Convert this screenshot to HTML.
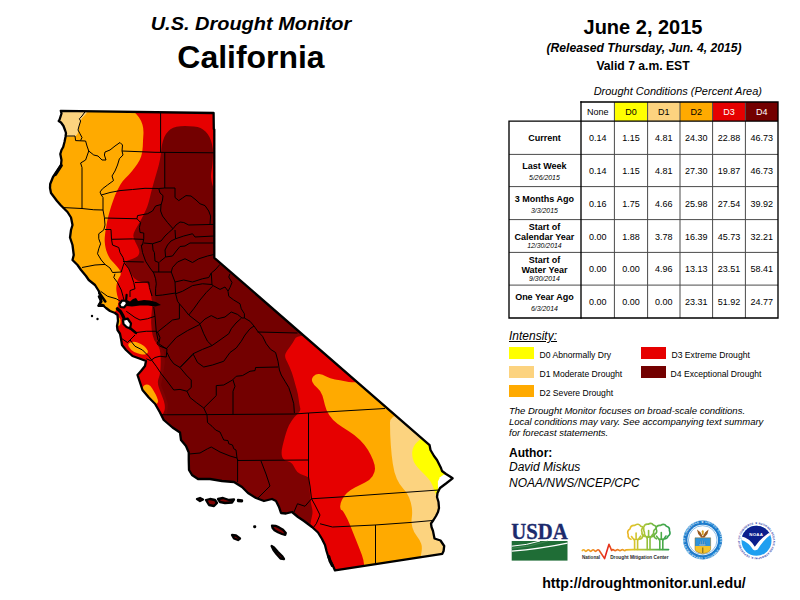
<!DOCTYPE html>
<html><head><meta charset="utf-8"><title>U.S. Drought Monitor - California</title>
<style>
html,body{margin:0;padding:0;background:#fff}
body{width:800px;height:600px;position:relative;overflow:hidden;font-family:"Liberation Sans",Arial,sans-serif;color:#000}
.t{position:absolute;white-space:nowrap;line-height:1;text-align:center;transform-origin:50% 50%}
.l{position:absolute;white-space:nowrap;line-height:1;text-align:left;transform-origin:0 50%}
#map{position:absolute;left:0;top:0}
table#dt{position:absolute;left:507px;top:100px;border-collapse:collapse;font-size:9px}
#dt td{border:1px solid #555;text-align:center;padding:0;width:32px;height:32px}
#dt tr.h td{height:18px;border-top:2px solid #000}
#dt td.lab{width:71px;font-weight:bold;font-size:9px;line-height:10px;border-left:2px solid #000;border-right:2px solid #000}
#dt td.lab i{font-weight:normal;font-size:6.5px;display:block;line-height:8px}
#dt td.e{border:none;border-bottom:2px solid #000}
#dt tr td:last-child{border-right:2px solid #000}
#dt tr:last-child td{border-bottom:2px solid #000}
#dt tr.h td.n{border-left:2px solid #000}
#dt tr.h td{border-bottom:2px solid #000}
.sw{position:absolute;width:25px;height:12.5px}
</style></head><body>
<svg id="map" width="800" height="600" viewBox="0 0 800 600">
<defs><clipPath id="st"><polygon points="60.8,110.8 213.6,113 213.8,129 214.3,129.5 214.3,257.8 429.6,445.2 430.5,450 434,456 437,460 439,464 441,468 442,471 446,474 450,476.5 452.6,478.3 446,483.5 440,488 437.5,493 437,497 438.5,502 439,508 438,512 436,516 433.5,520 431,523.5 431.5,527 433,531 434.5,538.5 440.5,540.5 444.2,546 443.6,551 442.3,553.8 335,570.4 333,566 330.5,561 328.5,557.5 326.5,551 325,545 322,539 318,532.5 312,527 304,521 298,517 292,512 286,513.5 281,513 279,507 276,501 272,499 264,501 256,498 248,493 242,487 234,482 222,481 210,479 198,479 192,475 189,470 188.75,460 188.75,452.5 186,446 181,440 180,432.5 172.5,427.5 163.75,420 160,412.5 155,403.75 148.75,397.5 142.5,390 140,382.5 137.5,375 141,371 145,366 146,361 140,358.75 132.5,356 126,350 122,345 121,338.75 120,333.75 117.5,330 117,326 118,321 117.5,315 115,313 110,311 106,308 102.5,305 98.75,305.6 101,301 100.6,296 98.75,291 95,285 88.75,280 86,276 81,270 77.5,265 72.5,260 73.75,255 72.5,245 70,237.5 71,230 72.5,225 71,217.5 67.5,212 64,208.5 60.5,205 57,201 54,197 51,193 50,188 50.2,184 53,177 57,171 61,165 61.5,160 60.3,154 61.5,150 63.2,147 64.5,142 65.5,137 66,133 65,130 63.5,126 61,122.5 58.7,121 59.6,119.5 61.5,113.5"/></clipPath></defs>
<g clip-path="url(#st)">
<rect x="40" y="100" width="420" height="480" fill="#730000"/>
<polygon points="164.75,152 164.75,188 158.75,188.5 160,193 163,195.6 162.5,200 161,204.5 155.6,206 152.5,211 147.5,213.75 137.5,215.6 137,218.75 140.6,222.5 139.4,227.5 140,232.5 143.75,233 143.75,238.75 142.5,245 141.25,245 142.5,252.5 145.6,261.25 150,268 153.75,273 155.6,278.75 156.25,283.75 155.6,288.75 155.6,295.6 155.6,300 155,310 155,325 156,335 160,345 164,352 165,362 163,375 161,385 165,395 168,404 167,416 120,416 120,152" fill="#7e0202" />
<polygon points="257.5,332.5 262.5,336.25 266.25,343.75 270.6,349.4 275.6,352.5 278,361.25 279.4,370 281.25,375 285,381.25 288.75,387.5 291.25,395 293.75,403.75 294.4,413.5 330,413 330,332.5" fill="#7e0202" />
<polygon points="237.6,460.3 308.5,460 330,460 330,600 237.6,600" fill="#7e0202" />
<path d="M214.0,189.0Q213,187 212.2,184.0Q211.3,181 211.1,178.0Q210.8,175 211.4,171.5Q212,168 212.4,164.0Q212.8,160 212.9,156.0Q213,152 212.8,149.5Q212.5,147 211.8,143.5Q211,140 209.5,137.0Q208,134 205.5,131.5Q203,129 200.5,127.9Q198,126.8 194.0,126.4Q190,126.1 185.0,126.1Q180,126.1 176.5,126.8Q173,127.5 170.5,129.2Q168,131 166.0,134.0Q164,137 162.9,141.0Q161.8,145 161.5,148.5Q161.2,152 160.6,156.0Q160,160 158.8,165.0Q157.5,170 155.6,176.2Q153.75,182.5 152.4,187.5Q151,192.5 149.9,197.5Q148.75,202.5 147.4,206.2Q146,210 143.5,215.0Q141,220 139.5,222.5Q138,225 135.5,229.4Q133,233.75 133.4,236.2Q133.75,238.75 135.6,242.4Q137.5,246 138.8,249.2Q140,252.5 138.5,255.0Q137,257.5 131.5,259.2Q126,261 125.5,261.8Q125,262.5 127.5,266.8Q130,271 131.9,274.9Q133.75,278.75 137.4,280.4Q141,282 144.2,282.2Q147.5,282.5 148.8,285.0Q150,287.5 150.3,290.0Q150.6,292.5 151.6,298.8Q152.5,305 151.8,311.2Q151,317.5 151.2,323.8Q151.5,330 152.6,335.0Q153.75,340 156.2,343.1Q158.75,346.25 159.7,349.4Q160.6,352.5 160.7,358.8Q160.8,365 160.4,370.0Q160,375 158.5,378.8Q157,382.5 159.0,388.1Q161,393.75 162.6,397.4Q164.2,401 164.7,404.5Q165.2,408 164.5,410.5Q163.8,413 162.4,414.5Q161,416 150.5,423.0Q140,430 85.0,430.0Q30,430 30.0,260.0Q30,90 135.0,90.0Q240,90 240.0,139.5Q240,189 227.5,190.0Q215,191 214.0,189.0Z" fill="#e60000" />
<path d="M295.5,338.1Q292.5,343.75 289.1,348.1Q285.6,352.5 285.2,354.8Q284.75,357 286.1,359.8Q287.5,362.5 289.8,367.5Q292,372.5 293.5,378.1Q295,383.75 296.5,388.8Q298,393.75 298.7,399.4Q299.4,405 300.2,408.0Q301,411 298.0,413.5Q295,416 291.9,420.5Q288.75,425 287.4,429.0Q286,433 285.0,436.5Q284,440 282.5,446.2Q281,452.5 282.0,456.2Q283,460 287.0,461.0Q291,462 292.4,464.0Q293.75,466 295.4,469.2Q297,472.5 300.4,474.1Q303.75,475.6 306.2,476.3Q308.75,477 308.9,478.5Q309,480 309.5,487.5Q310,495 310.5,499.5Q311,504 312.0,508.0Q313,512 312.0,516.0Q311,520 310.5,524.0Q310,528 315.0,564.0Q320,600 400.0,600.0Q480,600 480.0,465.0Q480,330 389.2,331.2Q298.5,332.5 295.5,338.1Z" fill="#e60000" />
<path d="M134.2,112.0Q136.5,114 138.9,117.2Q141.3,120.5 142.5,124.8Q143.75,129 143.4,134.5Q143,140 142.8,146.2Q142.5,152.5 141.2,156.2Q140,160 137.5,163.8Q135,167.5 131.9,171.2Q128.75,175 125.6,178.0Q122.5,181 120.6,184.2Q118.75,187.5 116.9,191.2Q115,195 113.8,198.8Q112.5,202.5 111.2,206.2Q110,210 109.0,213.8Q108,217.5 107.2,221.2Q106.5,225 105.9,228.5Q105.3,232 104.9,236.0Q104.5,240 104.8,242.5Q105,245 105.5,247.5Q106,250 106.8,252.0Q107.5,254 108.8,256.5Q110,259 111.5,260.5Q113,262 115.2,264.5Q117.5,267 119.0,269.0Q120.5,271 120.8,273.0Q121,275 119.2,277.5Q117.5,280 116.8,283.8Q116,287.5 116.5,291.2Q117,295 117.9,297.5Q118.75,300 118.4,302.5Q118,305 117.0,308.5Q116,312 108.0,316.0Q100,320 65.0,320.0Q30,320 30.0,205.0Q30,90 81.5,90.0Q133,90 132.5,100.0Q132,110 134.2,112.0Z" fill="#ffaa00" />
<path d="M130.4,342.4Q133.75,341.3 137.4,342.4Q141,343.5 144.0,346.0Q147,348.5 147.8,350.8Q148.5,353 146.2,354.0Q144,355 140.8,354.2Q137.5,353.5 134.2,352.0Q131,350.5 129.0,347.0Q127,343.5 130.4,342.4Z" fill="#ffaa00" />
<path d="M144.4,385.2Q146.25,384 148.4,384.8Q150.5,385.6 152.2,388.4Q154,391.25 155.7,394.4Q157.3,397.5 157.9,400.0Q158.5,402.5 157.1,403.4Q155.6,404.3 153.4,401.6Q151.25,399 148.8,396.0Q146.25,393 144.3,391.3Q142.3,389.6 142.4,388.1Q142.5,386.5 144.4,385.2Z" fill="#ffaa00" />
<path d="M117.8,317.2Q120.6,317.5 120.6,321.2Q120.6,325 119.3,325.5Q118,326 116.5,326.0Q115,326 115.0,321.5Q115,317 117.8,317.2Z" fill="#ffaa00" />
<path d="M353.0,382.2Q350,382.5 345.0,381.2Q340,380 335.0,379.4Q330,378.75 326.2,376.6Q322.5,374.5 319.2,374.1Q316,373.75 313.5,376.2Q311,378.75 312.4,381.9Q313.75,385 317.4,388.0Q321,391 322.4,395.5Q323.75,400 324.9,405.0Q326,410 329.2,415.0Q332.5,420 337.5,423.8Q342.5,427.5 348.8,431.2Q355,435 360.0,440.0Q365,445 368.0,450.0Q371,455 373.0,460.0Q375,465 375.0,468.8Q375,472.5 372.5,476.2Q370,480 365.0,482.5Q360,485 355.0,487.5Q350,490 346.9,493.0Q343.75,496 341.9,499.9Q340,503.75 340.2,506.9Q340.5,510 341.5,510.0Q342.5,510 345.0,514.4Q347.5,518.75 349.2,523.1Q351,527.5 353.5,533.8Q356,540 358.0,545.0Q360,550 361.9,555.0Q363.75,560 364.1,565.0Q364.5,570 364.2,585.0Q364,600 422.0,600.0Q480,600 480.0,491.0Q480,382 418.0,382.0Q356,382 353.0,382.2Z" fill="#ffaa00" />
<polygon points="50,100 88,100 87.5,112 85,115 82,118 80.3,121 79.5,125 78.6,130 77.5,134 75,136.6 50,136.6" fill="#fcd37f" />
<path d="M390.0,422.5Q390,435 390.8,445.0Q391.5,455 392.8,463.8Q394,472.5 396.8,478.8Q399.5,485 403.5,489.0Q407.5,493 409.2,497.8Q411,502.5 411.8,507.5Q412.5,512.5 411.8,517.5Q411,522.5 412.4,527.5Q413.75,532.5 416.9,536.2Q420,540 421.2,543.8Q422.5,547.5 421.2,553.8Q420,560 420.0,580.0Q420,600 450.0,600.0Q480,600 480.0,505.0Q480,410 435.0,410.0Q390,410 390.0,422.5Z" fill="#fcd37f" />
<path d="M422.0,437.2Q420,439.5 417.5,441.8Q415,444 413.8,446.5Q412.5,449 412.2,452.0Q412,455 412.8,458.5Q413.5,462 415.8,465.0Q418,468 420.5,470.5Q423,473 425.5,475.5Q428,478 429.8,480.5Q431.5,483 432.8,486.2Q434,489.5 435.1,492.8Q436.3,496 438.1,495.0Q440,494 442.5,493.0Q445,492 457.5,486.0Q470,480 470.0,457.5Q470,435 447.0,435.0Q424,435 422.0,437.2Z" fill="#ffff00" />
<polygon points="438,488.8 437.9,481.5 440,477.3 444,474.6 458,477 448,486" fill="#fff" />
<g fill="none" stroke="#000" stroke-width="1" stroke-linejoin="round">
<polyline points="85.6,111 82,116 79.4,118.75 80.6,121 78.75,127 78,130 80,133.75 82,137.5 80.6,140.5" />
<polyline points="62,136 75,136 75.6,140.6 85.6,141" />
<polyline points="85.6,141 87,146 88.75,151 87,156 85.6,160 80.6,163 82,167.5 82,209" />
<polyline points="88.75,151 93.75,155 98,156 102,160 106,160 104.4,155 105,152 110,150 115,146 120,142.5 122.5,145 122,151" />
<polyline points="122,151 155,152.3 214,152.8" />
<polyline points="160.6,112 160.6,152.4" />
<polyline points="122,151 123,155 119.4,158.75 117.5,165 115,171 112,176 113.5,180.6 107.5,185 102.5,188.75 100,192 101.25,195 103,197.5 103,210" />
<polyline points="62,207.5 82,208.5 93.75,209.75 103,210" />
<polyline points="101.25,195 110,192.5 120,190.6 132.5,189.5 145,188.3 158.75,188.5 164.75,188 175,188" />
<polyline points="164.75,152.4 164.75,188" />
<polyline points="175,188 175,197.5 178.75,200.6 182.5,198 186,195.6 191,196 196,200 200,203.75 205,205.6 208.75,211 210.6,216 210,224.4" />
<polyline points="158.75,188.5 160,193 163,195.6 162.5,200 161,205 160.6,211 162.5,216 167.5,222.5 173,228.75" />
<polyline points="161,204.5 155.6,206 152.5,211 147.5,213.75 137.5,215.6 137,218.75 140.6,222.5 139.4,227.5 140,232.5 143.75,233 143.75,238.75 142.5,245 141.25,245" />
<polyline points="103,210 104.4,217.5 105,225 103.75,230 98.75,233.75 98.75,238.75 100.6,243.75 98.75,248.75 97.5,253.75 101.25,260 105,264.4" />
<polyline points="104.4,218 137,218.75" />
<polyline points="105,229.5 111,229.5 111.5,239.3 132.5,238.9 143.75,239.4" />
<polyline points="173,228.75 176,225 180,222 183.75,222.5 188.75,225 214,224.4" />
<polyline points="173,228.75 168.75,232.5 165,236 161,241 152.5,243.75 143.75,243" />
<polyline points="175,230 175.6,238.75 183.75,236 192.5,233.75 195,237 214,236" />
<polyline points="175.6,238.75 171,241 167.5,245 165,250 165.6,257 159.4,262" />
<polyline points="165.6,257 172.5,256 176.25,251 180,246.5 185,246 190,243 214,243" />
<polyline points="152.5,243.75 153,250 154.4,252.5 155,261 158.75,262.5 158.75,272" />
<polyline points="141.25,245 142.5,252.5 145.6,261.25 150,268 153.75,273 155.6,278.75 156.25,283.75 155.6,288.75 155.6,295.6" />
<polyline points="123,261.5 143.75,262" />
<polyline points="153,272 171.25,272" />
<polyline points="171.25,272 172.5,267.5 177.5,262 185,258.75 192.5,262.5 198.75,258.75 207.5,256 214,254.5" />
<polyline points="171.25,272 175,282 175.6,293.75" />
<polyline points="175,282 183.75,280 192.5,282 202.5,278.75 208.75,277.5 211.25,273 215,270 220,264.4" />
<polyline points="211.25,273 212,285 220,289.4 225,287 228,291" />
<polyline points="230,273.75 228.75,277 232,282.5 230,287.5 228,291.25 228.75,296.25 233.75,300 240,303.75 241.25,308.75 244.4,313.75 244.4,318 250,321.25 254,326 257.5,331" />
<polyline points="175.6,293.75 182.5,291.25 192.5,285.6 202.5,283.75 212,284.5" />
<polyline points="155.6,295.6 162.5,295 175.6,293" />
<polyline points="175.6,293.75 177.5,301.25 179.4,303.75 179.4,318.75 172.5,320 166.25,325 157.5,332" />
<polyline points="179.4,303.75 183.75,308.75 188.75,315 200,323.75" />
<polyline points="188.75,315 193.75,308.75 200,300 206.25,292.5 212.5,286.25" />
<polyline points="200,323.75 205,319 211.25,315.6 217.5,318.75 225,317 231.25,312 237.5,314.4 242,318 244.4,318" />
<polyline points="157.5,332 160,337.5 158.75,343.75 166.25,348.75" />
<polyline points="166.25,348.75 176.25,337.5 187.5,330.6 200,324.4" />
<polyline points="200,324.4 203.75,333.75 207.5,341.25 212,345.6" />
<polyline points="212,345.6 220,340 228.75,333.75 231.25,328.75 236,323 241.5,318" />
<polyline points="212,345.6 202.5,349.4 193,353.75 180,367.5" />
<polyline points="193,353.75 197.5,362.5 203.75,367 212.5,365 223.75,361.25 230,352.5 236.25,348 241.25,341.25 245,335 250,328.75 254,326" />
<polyline points="257.5,332 297.5,333" />
<polyline points="257.5,331 262.5,336.25 266.25,343.75 270.6,349.4 275.6,352.5 278,361.25 279.4,370 281.25,375 285,381.25 288.75,387.5 291.25,395 293.75,403.75 294.4,413" />
<polyline points="242.5,375.6 250,371.25 255,370.6 255.6,367.5 278,367" />
<polyline points="203.75,408 216.25,395.6 216.25,385.6 223.75,385 232.5,380 236.25,376.25 242.5,375.6" />
<polyline points="233,380 235,386.25 233,391.25 233,414.4" />
<polyline points="161,414.8 207,414.6 294,414 308.5,413" />
<polyline points="308.5,413 385,408.5" />
<polyline points="308.5,413 308.5,477 310,486 311.5,498.75" />
<polyline points="237,460.5 308.5,460" />
<polyline points="207,415 207.5,422.5 212,426.25 215.6,430 220,432 222,436.25 223.75,440 228,440.6 228.75,443.75 232.5,445 233.75,448.75 236,450 237,458 237.6,460" />
<polyline points="189,454 200,453 207.5,448.75 211.25,447 220,452 230,456 237,458" />
<polyline points="237.6,459 237.6,482" />
<polyline points="261,461 266,474 270,486 262,494 258,498" />
<polyline points="294,512 297.5,503.75 305,506.25 311.5,498.75" />
<polyline points="311.5,498.75 315,505 320,515 316.25,523.75 313,528" />
<polyline points="311.5,498.75 340,497 385,493.75 438.75,490" />
<polyline points="320,523.75 332.5,527 375,525 410,522.5 432.5,520.5" />
<polyline points="375.5,525 375.5,564" />
<polyline points="146.25,358.75 150.6,360.6 155,357.5 160,356.25 166.25,357 167,348.75 160,346.25 157,343.75 158.75,340" />
<polyline points="148.75,356.25 156.25,366.25 161.25,373.75 166.25,380 173.75,390 180,389.4 187,391.25" />
<polyline points="167,352.5 170,358.75 173.75,363.75 180,367.5 186.25,375 191.25,380 191.25,387.5 187,391.25 190,397.5 196.25,402.5 203.75,408 207,415" />
<polyline points="180,367.5 192.5,355" />
<polyline points="122,338.75 127.5,342.5 130,340 135,335" />
<polyline points="130,340 135,346.25 142.5,350 148.75,356.25" />
<polyline points="130,328.75 136.25,332.5 146.25,331.25 156.25,331.25 157.5,332" />
<polyline points="126.25,311.25 135,317.5 140,320 147.5,318.75 155,316.25" />
<polyline points="153.75,307 155,316.25 156.25,331.25 158,340" />
<polyline points="82,267.5 95,265 105,264.4 110,268 112.5,272.5 121.25,272" />
<polyline points="111.5,239.3 112.5,245 118.75,247.5 120,252.5 123,257.5 124.4,262.5 123,266.25 121.25,272" />
<polyline points="115,273.75 113.75,277.5 117.5,282.5 121.25,290 123,296.25 124,300" />
<polyline points="124.4,263 128.75,268.75 131.25,275 133.75,282.5 135,288.75 130,290.6 130,297" />
<polyline points="135,282.5 148.75,282 149.4,287.5 152,296" />
<polyline points="100.6,291.25 107.5,296.25 116.25,298.75 120,301" />
</g>
</g>
<path d="M328.8,556.5 L330,561 L332.3,565.5" fill="none" stroke="#000" stroke-width="3" stroke-linecap="round" stroke-linejoin="round"/>
<path d="M124,303 L127,300 L130,301.5 L133,299 L136,298 L138,301 L144,300 L150,300.5 L156,302 L161,305 L155,306.5 L148,305.5 L140,305.5 L132,306.5 L127,306 Z" fill="#000"/>
<path d="M119.5,304 L122,300.5 L126,301 L127,304 L124,307.5 L120.5,307 Z" fill="#fff" stroke="#000" stroke-width="2.2" stroke-linejoin="round"/>
<path d="M117.3,308.8 L120.5,311.5 L122.5,315 L124.3,319" fill="none" stroke="#000" stroke-width="3.2" stroke-linecap="round" stroke-linejoin="round"/>
<path d="M126.2,299.5 L126.6,294.8" fill="none" stroke="#000" stroke-width="2.2" stroke-linecap="round"/>
<path d="M99,296.5 L101.3,301.5 L98.6,305.6 L103.5,305.6" fill="none" stroke="#000" stroke-width="2.6" stroke-linecap="round" stroke-linejoin="round"/>
<path d="M123,320 L127.5,318.5 L131,323.5 L130,328.5 L126.5,327 L123.5,324 Z" fill="#fff" stroke="#000" stroke-width="2.2" stroke-linejoin="round"/>
<path d="M130,328 L136,333" fill="none" stroke="#000" stroke-width="2.5" stroke-linecap="round"/>
<path d="M55.5,174.5 L61.3,165.5" fill="none" stroke="#000" stroke-width="3.2" stroke-linecap="round"/>
<path d="M99.3,293 L105.3,301.5" fill="none" stroke="#000" stroke-width="2.6" stroke-linecap="round"/>
<polygon points="60.8,110.8 213.6,113 213.8,129 214.3,129.5 214.3,257.8 429.6,445.2 430.5,450 434,456 437,460 439,464 441,468 442,471 446,474 450,476.5 452.6,478.3 446,483.5 440,488 437.5,493 437,497 438.5,502 439,508 438,512 436,516 433.5,520 431,523.5 431.5,527 433,531 434.5,538.5 440.5,540.5 444.2,546 443.6,551 442.3,553.8 335,570.4 333,566 330.5,561 328.5,557.5 326.5,551 325,545 322,539 318,532.5 312,527 304,521 298,517 292,512 286,513.5 281,513 279,507 276,501 272,499 264,501 256,498 248,493 242,487 234,482 222,481 210,479 198,479 192,475 189,470 188.75,460 188.75,452.5 186,446 181,440 180,432.5 172.5,427.5 163.75,420 160,412.5 155,403.75 148.75,397.5 142.5,390 140,382.5 137.5,375 141,371 145,366 146,361 140,358.75 132.5,356 126,350 122,345 121,338.75 120,333.75 117.5,330 117,326 118,321 117.5,315 115,313 110,311 106,308 102.5,305 98.75,305.6 101,301 100.6,296 98.75,291 95,285 88.75,280 86,276 81,270 77.5,265 72.5,260 73.75,255 72.5,245 70,237.5 71,230 72.5,225 71,217.5 67.5,212 64,208.5 60.5,205 57,201 54,197 51,193 50,188 50.2,184 53,177 57,171 61,165 61.5,160 60.3,154 61.5,150 63.2,147 64.5,142 65.5,137 66,133 65,130 63.5,126 61,122.5 58.7,121 59.6,119.5 61.5,113.5" fill="none" stroke="#000" stroke-width="2.3" stroke-linejoin="round"/>
<polygon points="197,499 200,498 203,499.5 200,501" fill="#7e0202" stroke="#000" stroke-width="2.3" stroke-linejoin="round"/>
<polygon points="206,500 210,499 215,500 217,503 214,506 209,505" fill="#7e0202" stroke="#000" stroke-width="2.3" stroke-linejoin="round"/>
<polygon points="218,499 223,498 229,500 234,499.5 232,502.5 225,503 220,502" fill="#7e0202" stroke="#000" stroke-width="2.3" stroke-linejoin="round"/>
<polygon points="238,500 242,500.3 242,501.3 238,501" fill="#7e0202" stroke="#000" stroke-width="2.3" stroke-linejoin="round"/>
<polygon points="254.3,526.3 255.1,526.3 255.1,527.1 254.3,527.1" fill="#7e0202" stroke="#000" stroke-width="2.3" stroke-linejoin="round"/>
<polygon points="232,535 236,535.5 240,538.5 238,540 234,538.5" fill="#7e0202" stroke="#000" stroke-width="2.3" stroke-linejoin="round"/>
<polygon points="272,525.6 275.5,525.8 279,527.4 283,529.8 285.8,533 285.2,534.8 282,534 278,532.3 274.5,530.3 272.6,528" fill="#7e0202" stroke="#000" stroke-width="2.3" stroke-linejoin="round"/>
<polygon points="271.6,546 274,547.5 278,552 282,556 284,559 280.5,558.5 276.5,554 273.5,550" fill="#7e0202" stroke="#000" stroke-width="2.3" stroke-linejoin="round"/>
<circle cx="92" cy="316" r="1.2" fill="#000"/>
<circle cx="97.5" cy="319" r="1.2" fill="#000"/>
</svg>
<div class="t" style="left:101px;width:300px;top:14px;font-size:19px;font-weight:bold;font-style:italic;transform:scaleX(1.05)">U.S. Drought Monitor</div>
<div class="t" style="left:101px;width:300px;top:42.4px;font-size:31px;font-weight:bold;transform:scaleX(1.03)">California</div>
<div class="t" style="left:493px;width:300px;top:17.3px;font-size:20px;font-weight:bold">June 2, 2015</div>
<div class="t" style="left:494px;width:300px;top:42px;font-size:12px;font-weight:bold;font-style:italic;transform:scaleX(1.015)">(Released Thursday, Jun. 4, 2015)</div>
<div class="t" style="left:493px;width:300px;top:60px;font-size:12px;font-weight:bold;transform:scaleX(1.012)">Valid 7 a.m. EST</div>
<div class="t" style="left:527.8px;width:300px;top:86px;font-size:11px;font-style:italic">Drought Conditions (Percent Area)</div>

<svg id="tbl" width="800" height="600" viewBox="0 0 800 600" style="position:absolute;left:0;top:0" font-family="Liberation Sans, Arial, sans-serif">
<rect x="581.00" y="102" width="33.40" height="19.099999999999994" fill="#fff"/>
<rect x="614.40" y="102" width="33.20" height="19.099999999999994" fill="#ffff00"/>
<rect x="647.60" y="102" width="32.40" height="19.099999999999994" fill="#fcd37f"/>
<rect x="680.00" y="102" width="32.60" height="19.099999999999994" fill="#ffaa00"/>
<rect x="712.60" y="102" width="32.80" height="19.099999999999994" fill="#e60000"/>
<rect x="745.40" y="102" width="32.60" height="19.099999999999994" fill="#730000"/>
<g stroke="#4a4a4a" stroke-width="1">
<line x1="614.40" y1="102" x2="614.40" y2="318.00"/>
<line x1="647.60" y1="102" x2="647.60" y2="318.00"/>
<line x1="680.00" y1="102" x2="680.00" y2="318.00"/>
<line x1="712.60" y1="102" x2="712.60" y2="318.00"/>
<line x1="745.40" y1="102" x2="745.40" y2="318.00"/>
<line x1="509" y1="154.40" x2="778.00" y2="154.40"/>
<line x1="509" y1="186.60" x2="778.00" y2="186.60"/>
<line x1="509" y1="219.60" x2="778.00" y2="219.60"/>
<line x1="509" y1="252.40" x2="778.00" y2="252.40"/>
<line x1="509" y1="285.10" x2="778.00" y2="285.10"/>
</g>
<g stroke="#000" stroke-width="1.35" fill="none" stroke-linecap="square">
<path d="M581,102 H778.00 V318.00 H509 V121.1 H778.00"/>
<line x1="581" y1="102" x2="581" y2="318.00"/>
</g>
<text x="597.7" y="114.8" font-size="9" text-anchor="middle" fill="#000">None</text>
<text x="631.0" y="114.8" font-size="9" text-anchor="middle" fill="#000">D0</text>
<text x="663.8" y="114.8" font-size="9" text-anchor="middle" fill="#000">D1</text>
<text x="696.3" y="114.8" font-size="9" text-anchor="middle" fill="#000">D2</text>
<text x="729.0" y="114.8" font-size="9" text-anchor="middle" fill="#fff">D3</text>
<text x="761.7" y="114.8" font-size="9" text-anchor="middle" fill="#fff">D4</text>
<text x="544.4" y="141.2" font-size="9" font-weight="bold" text-anchor="middle">Current</text>
<text x="597.7" y="141.4" font-size="9" text-anchor="middle">0.14</text>
<text x="631.0" y="141.4" font-size="9" text-anchor="middle">1.15</text>
<text x="663.8" y="141.4" font-size="9" text-anchor="middle">4.81</text>
<text x="696.3" y="141.4" font-size="9" text-anchor="middle">24.30</text>
<text x="729.0" y="141.4" font-size="9" text-anchor="middle">22.88</text>
<text x="761.7" y="141.4" font-size="9" text-anchor="middle">46.73</text>
<text x="544.4" y="169.3" font-size="9" font-weight="bold" text-anchor="middle">Last Week</text>
<text x="544.4" y="180.0" font-size="6.9" font-style="italic" text-anchor="middle">5/26/2015</text>
<text x="597.7" y="174.2" font-size="9" text-anchor="middle">0.14</text>
<text x="631.0" y="174.2" font-size="9" text-anchor="middle">1.15</text>
<text x="663.8" y="174.2" font-size="9" text-anchor="middle">4.81</text>
<text x="696.3" y="174.2" font-size="9" text-anchor="middle">27.30</text>
<text x="729.0" y="174.2" font-size="9" text-anchor="middle">19.87</text>
<text x="761.7" y="174.2" font-size="9" text-anchor="middle">46.73</text>
<text x="544.4" y="201.9" font-size="9" font-weight="bold" text-anchor="middle">3 Months Ago</text>
<text x="544.4" y="212.6" font-size="6.9" font-style="italic" text-anchor="middle">3/3/2015</text>
<text x="597.7" y="206.8" font-size="9" text-anchor="middle">0.16</text>
<text x="631.0" y="206.8" font-size="9" text-anchor="middle">1.75</text>
<text x="663.8" y="206.8" font-size="9" text-anchor="middle">4.66</text>
<text x="696.3" y="206.8" font-size="9" text-anchor="middle">25.98</text>
<text x="729.0" y="206.8" font-size="9" text-anchor="middle">27.54</text>
<text x="761.7" y="206.8" font-size="9" text-anchor="middle">39.92</text>
<text x="544.4" y="230.0" font-size="9" font-weight="bold" text-anchor="middle">Start of</text>
<text x="544.4" y="240.0" font-size="9" font-weight="bold" text-anchor="middle">Calendar Year</text>
<text x="544.4" y="248.3" font-size="6.9" font-style="italic" text-anchor="middle">12/30/2014</text>
<text x="597.7" y="239.7" font-size="9" text-anchor="middle">0.00</text>
<text x="631.0" y="239.7" font-size="9" text-anchor="middle">1.88</text>
<text x="663.8" y="239.7" font-size="9" text-anchor="middle">3.78</text>
<text x="696.3" y="239.7" font-size="9" text-anchor="middle">16.39</text>
<text x="729.0" y="239.7" font-size="9" text-anchor="middle">45.73</text>
<text x="761.7" y="239.7" font-size="9" text-anchor="middle">32.21</text>
<text x="544.4" y="262.8" font-size="9" font-weight="bold" text-anchor="middle">Start of</text>
<text x="544.4" y="272.8" font-size="9" font-weight="bold" text-anchor="middle">Water Year</text>
<text x="544.4" y="281.1" font-size="6.9" font-style="italic" text-anchor="middle">9/30/2014</text>
<text x="597.7" y="272.4" font-size="9" text-anchor="middle">0.00</text>
<text x="631.0" y="272.4" font-size="9" text-anchor="middle">0.00</text>
<text x="663.8" y="272.4" font-size="9" text-anchor="middle">4.96</text>
<text x="696.3" y="272.4" font-size="9" text-anchor="middle">13.13</text>
<text x="729.0" y="272.4" font-size="9" text-anchor="middle">23.51</text>
<text x="761.7" y="272.4" font-size="9" text-anchor="middle">58.41</text>
<text x="544.4" y="300.4" font-size="9" font-weight="bold" text-anchor="middle">One Year Ago</text>
<text x="544.4" y="311.1" font-size="6.9" font-style="italic" text-anchor="middle">6/3/2014</text>
<text x="597.7" y="305.2" font-size="9" text-anchor="middle">0.00</text>
<text x="631.0" y="305.2" font-size="9" text-anchor="middle">0.00</text>
<text x="663.8" y="305.2" font-size="9" text-anchor="middle">0.00</text>
<text x="696.3" y="305.2" font-size="9" text-anchor="middle">23.31</text>
<text x="729.0" y="305.2" font-size="9" text-anchor="middle">51.92</text>
<text x="761.7" y="305.2" font-size="9" text-anchor="middle">24.77</text>
</svg>

<div class="l" style="left:509px;top:330px;font-size:12px;font-style:italic;text-decoration:underline">Intensity:</div>
<div class="sw" style="left:509px;top:346.8px;background:#ffff00"></div>
<div class="sw" style="left:509px;top:365.7px;background:#fcd37f"></div>
<div class="sw" style="left:509px;top:384.8px;background:#ffaa00"></div>
<div class="sw" style="left:641px;top:346.8px;background:#e60000"></div>
<div class="sw" style="left:641px;top:365.7px;background:#730000"></div>
<div class="l" style="left:539.5px;top:351.4px;font-size:8.6px">D0 Abnormally Dry</div>
<div class="l" style="left:539.5px;top:370.4px;font-size:8.6px">D1 Moderate Drought</div>
<div class="l" style="left:539.5px;top:389.2px;font-size:8.6px">D2 Severe Drought</div>
<div class="l" style="left:671.5px;top:351.4px;font-size:8.6px">D3 Extreme Drought</div>
<div class="l" style="left:670.6px;top:370.4px;font-size:8.6px">D4 Exceptional Drought</div>

<div class="l" style="left:509px;top:406px;font-size:9.5px;font-style:italic;line-height:10.9px">The Drought Monitor focuses on broad-scale conditions.<br>Local conditions may vary. See accompanying text summary<br>for forecast statements.</div>
<div class="l" style="left:509px;top:446.6px;font-size:12px;font-weight:bold">Author:</div>
<div class="l" style="left:509px;top:461px;font-size:12px;font-style:italic">David Miskus</div>
<div class="l" style="left:509px;top:477px;font-size:12px;font-style:italic">NOAA/NWS/NCEP/CPC</div>
<svg id="logos" width="800" height="600" viewBox="0 0 800 600" style="position:absolute;left:0;top:0">
<defs>
<linearGradient id="ndg" gradientUnits="userSpaceOnUse" x1="582" y1="0" x2="669" y2="0">
<stop offset="0" stop-color="#f2b327"/><stop offset="0.14" stop-color="#f08a1e"/><stop offset="0.28" stop-color="#e3211c"/><stop offset="0.4" stop-color="#ee7a1e"/><stop offset="0.56" stop-color="#e8c327"/><stop offset="0.72" stop-color="#a6c437"/><stop offset="0.86" stop-color="#5fb345"/><stop offset="1" stop-color="#2f9e4d"/>
</linearGradient>
<clipPath id="noaac"><circle cx="756.5" cy="540.8" r="15"/></clipPath>
<path id="docring" d="M702.7,557.4 a17.4,17.4 0 1 1 0.01,0"/>
<path id="noaaring" d="M756.5,557.4 a16.6,16.6 0 1 1 0.01,0"/>
</defs>
<!-- USDA -->
<g>
<text x="539.6" y="539.3" font-family="Liberation Serif, serif" font-weight="bold" font-size="24" text-anchor="middle" fill="#1c2b6d" stroke="#1c2b6d" stroke-width="0.35" textLength="56.5" lengthAdjust="spacingAndGlyphs">USDA</text>
<rect x="511.7" y="541" width="55.8" height="19.6" fill="#1f6d36"/>
<path d="M511.7,546.2 Q527,545.2 540,541" fill="none" stroke="#fff" stroke-width="1"/>
<path d="M511.7,551.2 Q540,549 567.5,543.2" fill="none" stroke="#fff" stroke-width="1.3"/>
<path d="M511.7,548.4 Q530,547 548,541" fill="none" stroke="#5a9a66" stroke-width="0.6"/>
</g>
<!-- NDMC -->
<g fill="none" stroke="url(#ndg)" stroke-width="1.6" stroke-linejoin="round" stroke-linecap="round">
<path d="M582.3,550.6 q1.2,-1.6 2.4,0 t2.4,0 t2.4,0 t2.4,0 t2.4,0 t2.4,0 t2.4,-0.4 L604.6,558.6 L609,544.3 L611.6,550.4 q1.2,-1.4 2.4,-0.3 t2.4,0 t2.4,0 t2.4,0 t2.4,0 t2.4,-0.2 L633,549.6 L668.6,549.6"/>
<!-- left tree -->
<path d="M634.6,549.4 V539.4 M637.6,549.4 V539.4 M634.6,540.5 L631.5,536.5 M637.6,540.5 L640.6,536.2 M636.1,539.5 V533"/>
<path d="M631,539.2 q-3.4,-1 -2.8,-4.6 q-1.6,-3.8 1.8,-5.6 q0.6,-4 4.8,-3.6 q3.6,-2.6 6,0.8 q3.6,0.6 3,4.4 q2,3.6 -1.2,5.8 q-0.4,2.6 -3.2,2.8"/>
<!-- middle tree -->
<path d="M647.2,549.4 V536.6 M650,549.4 V536.6 M647.2,538.5 L644.4,534.4 M650,538.5 L652.8,534.2 M648.6,537.2 V530.5"/>
<path d="M644.2,536.4 q-2.8,-1.2 -2.2,-4.2 q-1.4,-3.4 1.8,-5 q0.8,-3.6 4.4,-3 q3.2,-2 5.2,0.8 q3.4,0.8 2.8,4 q1.6,3.4 -1.4,5.2 q-0.4,2.2 -2.8,2.4"/>
<!-- right tree -->
<path d="M659.8,549.4 V539 M662.8,549.4 V539 M659.8,540.5 L656.6,536.2 M662.8,540.5 L666,536 M661.3,539.4 V532.6"/>
<path d="M656.4,538.8 q-3,-1.2 -2.4,-4.6 q-1.4,-3.6 1.8,-5.4 q0.8,-4 4.8,-3.4 q3.4,-2.4 5.8,0.8 q3.6,0.8 3,4.4 q1.8,3.6 -1.4,5.6 q-0.4,2.4 -3.2,2.8"/>
</g>
<g font-family="Liberation Sans, Arial, sans-serif" font-weight="bold" font-size="5" fill="#2a2a2a">
<text x="582" y="559.2" textLength="18" lengthAdjust="spacingAndGlyphs">National</text>
<text x="610.2" y="559.2" textLength="58.4" lengthAdjust="spacingAndGlyphs">Drought Mitigation Center</text>
</g>
<!-- DOC seal -->
<g>
<circle cx="702.7" cy="540" r="19.5" fill="#1c7acb"/>
<circle cx="702.7" cy="540" r="15.3" fill="#fff"/>
<circle cx="702.7" cy="540" r="14.3" fill="none" stroke="#1c7acb" stroke-width="0.5"/>
<text font-family="Liberation Sans, Arial, sans-serif" font-size="3.1" font-weight="bold" fill="#d9ecfb" letter-spacing="0.25"><textPath href="#docring">DEPARTMENT OF COMMERCE ★ UNITED STATES OF AMERICA ★</textPath></text>
<path d="M695,537.8 H710.6 V546 H695 Z" fill="#2e93dc"/>
<path d="M695,546 H710.6 V549.2 Q710.4,552.2 702.8,553.8 Q695.2,552.2 695,549.2 Z" fill="#f3c32c"/>
<path d="M698.6,544.4 h7.4 l-1,1.2 h-5.4 Z M700.2,544.2 v-3 h0.5 v3 M702.4,544.2 v-3.6 h0.5 v3.6 M704.4,544.2 v-2.6 h0.5 v2.6" fill="#e9f4fc" stroke="#1a4f86" stroke-width="0.25"/>
<path d="M702.3,553 V547.4 h1 V553" fill="#6b5a1e"/>
<path d="M695,537.8 H710.6 V549.2 Q710.4,552.2 702.8,553.8 Q695.2,552.2 695,549.2 Z" fill="none" stroke="#8a6d1c" stroke-width="0.5"/>
<path d="M697,529.6 L700.4,532.2 L702.8,536.6 L705.2,532.2 L708.6,529.6 L707.4,534 L704.4,537.4 H701.2 L698.2,534 Z" fill="#9a5a1e"/>
<path d="M701.8,531.2 L702.8,529.8 L703.8,531.2 L703.6,535 H702 Z" fill="#d8a227"/>
</g>
<!-- NOAA -->
<g>
<circle cx="756.5" cy="540.8" r="18.4" fill="#fff"/>
<text font-family="Liberation Sans, Arial, sans-serif" font-size="2.7" font-weight="bold" fill="#2a35a8" letter-spacing="0.12"><textPath href="#noaaring">U.S. DEPARTMENT OF COMMERCE ★ NATIONAL OCEANIC AND ATMOSPHERIC ADMINISTRATION ★</textPath></text>
<g clip-path="url(#noaac)">
<rect x="740" y="524" width="34" height="34" fill="#1e9ff0"/>
<path d="M740,536.6 Q748,538 754.6,548 Q761,538 772,531.6 V520 H740 Z" fill="#0b1f8c"/>
<path d="M740,536.2 Q749,537.4 754.8,546.8 Q761,537.4 772,531 L772,533.4 Q763,540 757.6,549.6 Q755,551 753,549.4 Q748.4,542 740,539.4 Z" fill="#fff"/>
</g>
<text x="756.2" y="535.6" font-family="Liberation Sans, Arial, sans-serif" font-size="4.4" font-weight="bold" fill="#fff" text-anchor="middle" letter-spacing="0.2">NOAA</text>
</g>
</svg>

<div class="t" style="left:494px;width:300px;top:575.7px;font-size:14px;font-weight:bold;transform:scaleX(1.015)">http://droughtmonitor.unl.edu/</div>
</body></html>
